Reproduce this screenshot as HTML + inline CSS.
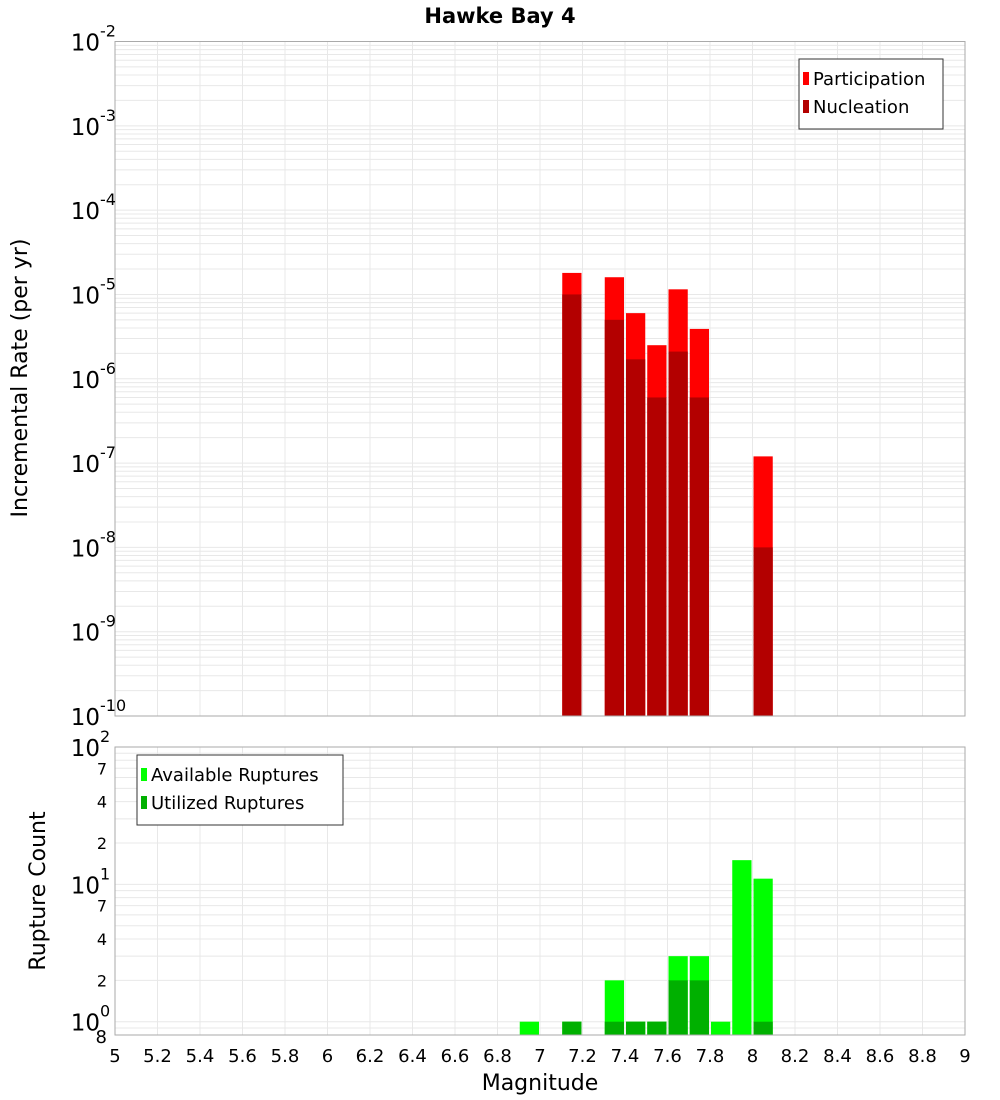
<!DOCTYPE html>
<html><head><meta charset="utf-8"><style>
html,body{margin:0;padding:0;background:#fff;}
svg{display:block;font-family:"DejaVu Sans","Liberation Sans",sans-serif;}
</style></head><body>
<svg id="chart" width="1000" height="1100" viewBox="0 0 1000 1100">
<text x="500" y="23" text-anchor="middle" font-size="21" font-weight="bold">Hawke Bay 4</text>
<g id="topPlot"></g>
<g id="botPlot"></g>
<text transform="translate(27,378) rotate(-90)" text-anchor="middle" font-size="22">Incremental Rate (per yr)</text>
<text transform="translate(45,891) rotate(-90)" text-anchor="middle" font-size="22">Rupture Count</text>
<text x="540" y="1090" text-anchor="middle" font-size="22">Magnitude</text>
</svg>
<script>
const rateMags = [7.15, 7.35, 7.45, 7.55, 7.65, 7.75, 8.05];
const participation = [1.8e-5, 1.6e-5, 6e-6, 2.5e-6, 1.15e-5, 3.9e-6, 1.2e-7];
const nucleation = [1e-5, 5e-6, 1.7e-6, 6e-7, 2.1e-6, 6e-7, 1e-8];
const countMags = [6.95, 7.15, 7.35, 7.45, 7.55, 7.65, 7.75, 7.85, 7.95, 8.05];
const available = [1, 1, 2, 1, 1, 3, 3, 1, 15, 11];
const utilized = [0, 1, 1, 1, 1, 2, 2, 0, 0, 1];
const xTicks = [5,5.2,5.4,5.6,5.8,6,6.2,6.4,6.6,6.8,7,7.2,7.4,7.6,7.8,8,8.2,8.4,8.6,8.8,9];
const rateExps = [-2,-3,-4,-5,-6,-7,-8,-9,-10];

const NS="http://www.w3.org/2000/svg";
const L=115,R=965;
const xs=m=>L+(m-5)/4*(R-L);
const T1=41.5,B1=716, ys1=v=>B1-(Math.log10(v)+10)/8*(B1-T1);
const T2=747,B2=1035, lmin=Math.log10(0.8), lmax=2, ys2=v=>B2-(Math.log10(v)-lmin)/(lmax-lmin)*(B2-T2);
function mk(parent,tag,attrs){const e=document.createElementNS(NS,tag);for(const k in attrs)e.setAttribute(k,attrs[k]);parent.appendChild(e);return e;}
const topG=document.getElementById('topPlot'), botG=document.getElementById('botPlot');

function frame(g,T,B,ysf,minDec,maxDec,lo,hi){
  mk(g,'rect',{x:L,y:T,width:R-L,height:B-T,fill:'#fff'});
  for(let d=minDec;d<maxDec;d++)for(let k=1;k<10;k++){const v=k*Math.pow(10,d);if(v<lo||v>hi)continue;const y=ysf(v);
    const ln=mk(g,'line',{x1:L,x2:R,y1:y,y2:y,stroke:'#e8e8e8','stroke-width':1});
    
    }
  xTicks.forEach(t=>{const x=xs(t);const ln=mk(g,'line',{x1:x,x2:x,y1:T,y2:B,stroke:'#e8e8e8','stroke-width':1});
    
    });
}
frame(topG,T1,B1,ys1,-10,-2,1e-10,1e-2);
frame(botG,T2,B2,ys2,-1,2,0.8,100);

const bw=(xs(5.1)-xs(5))-2;
function bar(g,m,v,base,ysf,color,name){const x=xs(m)-bw/2;const y=ysf(v);
  const r=mk(g,'rect',{x:x,y:y,width:bw,height:base-y,fill:color});
  
  }
rateMags.forEach((m,i)=>{bar(topG,m,participation[i],B1,ys1,'#ff0000','participation-bar');});
rateMags.forEach((m,i)=>{bar(topG,m,nucleation[i],B1,ys1,'#b30000','nucleation-bar');});
countMags.forEach((m,i)=>{if(available[i]>0)bar(botG,m,available[i],B2,ys2,'#00ff00','available-bar');});
countMags.forEach((m,i)=>{if(utilized[i]>0)bar(botG,m,utilized[i],B2,ys2,'#00b000','utilized-bar');});

mk(topG,'rect',{x:L,y:T1,width:R-L,height:B1-T1,fill:'none',stroke:'#aaa','stroke-width':1});
mk(botG,'rect',{x:L,y:T2,width:R-L,height:B2-T2,fill:'none',stroke:'#aaa','stroke-width':1});

function pow10(g,y,e,name){const t=mk(g,'text',{x:100,y:y+9,'text-anchor':'end','font-size':23});
  
  
  t.textContent='10';
  const s=mk(g,'text',{x:100,y:y-5,'font-size':16});
  
  
  s.textContent=String(e);}
rateExps.forEach(e=>pow10(topG,ys1(Math.pow(10,e)),e,'y-tick-rate'));
[2,1,0].forEach(e=>pow10(botG,ys2(Math.pow(10,e)),e,'y-tick-count'));
[[7,70],[4,40],[2,20],[7,7],[4,4],[2,2]].forEach(([lab,v])=>{const t=mk(botG,'text',{x:107,y:ys2(v)+6,'text-anchor':'end','font-size':16});
  
  
  t.textContent=String(lab);});
{const t=mk(botG,'text',{x:107,y:B2+8,'text-anchor':'end','font-size':18});
 
 
 t.textContent='8';}
xTicks.forEach(v=>{const t=mk(botG,'text',{x:xs(v),y:1062,'text-anchor':'middle','font-size':18});
  
  
  t.textContent=String(v);});

function legend(g,x,y,w,items,name){const lg=mk(g,'g',{});
  
  
  mk(lg,'rect',{x:x,y:y,width:w,height:14+items.length*28,fill:'#fff',stroke:'#333','stroke-width':1});
  items.forEach(([c,l],i)=>{const yy=y+20+i*28;
    const sw=mk(lg,'rect',{x:x+4,y:yy-7,width:6,height:13,fill:c});
    
    
    const t=mk(lg,'text',{x:x+14,y:yy+6,'font-size':18});
    
    
    t.textContent=l;});}
legend(topG,799,59,144,[['#ff0000','Participation'],['#b30000','Nucleation']],'rate-legend');
legend(botG,137,755,206,[['#00ff00','Available Ruptures'],['#00b000','Utilized Ruptures']],'count-legend');
</script>
</body></html>
